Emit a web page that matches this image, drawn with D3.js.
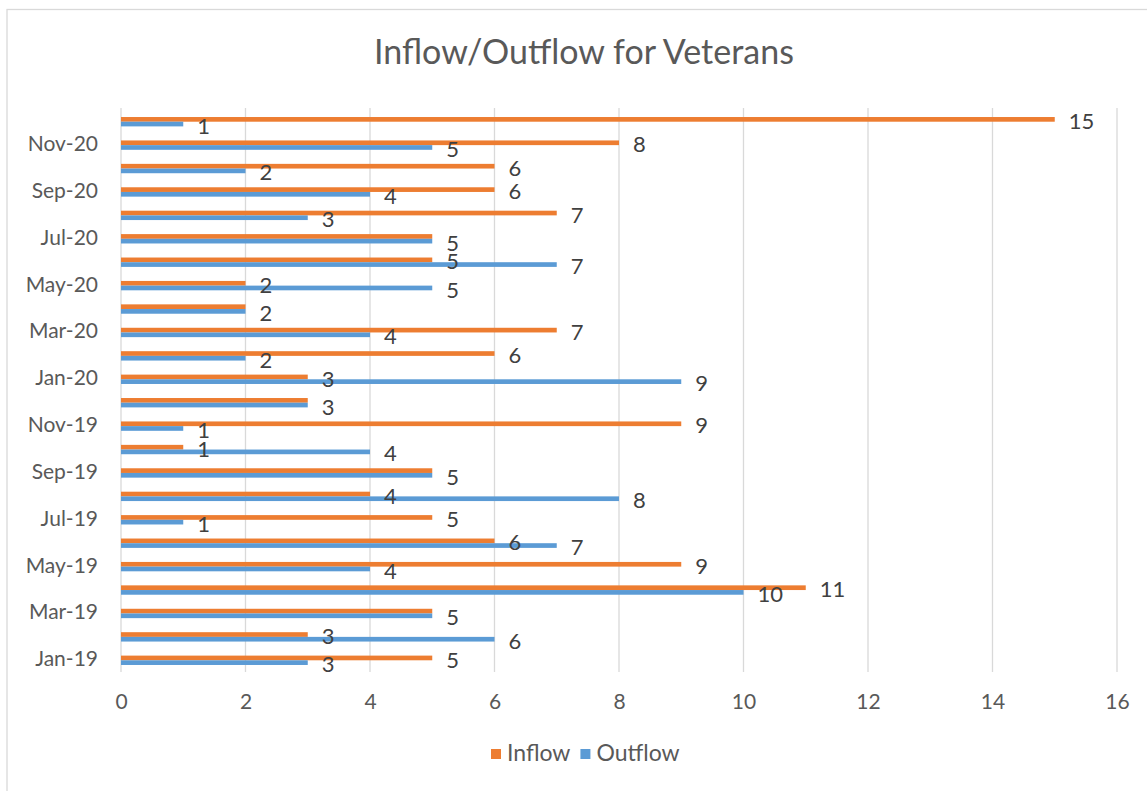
<!DOCTYPE html>
<html>
<head>
<meta charset="utf-8">
<script src="https://cdn.jsdelivr.net/npm/d3@7"></script>
<style>
  html, body { margin: 0; padding: 0; background: #fff; }
  svg { display: block; font-family: Lato, "Open Sans", sans-serif; }
</style>
</head>
<body>
<svg id="chart" width="1147" height="791"></svg>
<script>
const months = ["Jan-19","Feb-19","Mar-19","Apr-19","May-19","Jun-19","Jul-19","Aug-19","Sep-19","Oct-19","Nov-19","Dec-19",
                "Jan-20","Feb-20","Mar-20","Apr-20","May-20","Jun-20","Jul-20","Aug-20","Sep-20","Oct-20","Nov-20","Dec-20"];
const inflow  = [5,3,5,11,9,6,5,4,5,1,9,3, 3,6,7,2,2,5,5,7,6,6,8,15];
const outflow = [3,6,5,10,4,7,1,8,5,4,1,3, 9,2,4,2,5,7,5,3,4,2,5,1];
const seriesNames = ["Inflow","Outflow"];
const seriesColors = ["#ED7D31","#5B9BD5"];
const xTicks = [0,2,4,6,8,10,12,14,16];
const shownMonthLabels = months.filter((m, i) => i % 2 === 0);
const chartTitle = "Inflow/Outflow for Veterans";

(function () {
const svg = d3.select("#chart");
const textColor = "#595959";
const gridColor = "#d9d9d9";

svg.append("rect").attr("x", 7).attr("y", 9.5).attr("width", 1160).attr("height", 800)
  .attr("fill", "none").attr("stroke", gridColor).attr("stroke-width", 1.3);

const pL = 121, pR = 1117, pT = 110, pB = 672;
const x = d3.scaleLinear().domain([0, 16]).range([pL, pR]);
const y = d3.scaleBand().domain(months).range([pB, pT]).paddingInner(0.6).paddingOuter(0.3);
const ySub = d3.scaleBand().domain(seriesNames).range([0, y.bandwidth()]);

svg.append("g").selectAll("line").data(xTicks).join("line")
  .attr("x1", d => x(d)).attr("x2", d => x(d))
  .attr("y1", 108).attr("y2", pB)
  .attr("stroke", gridColor).attr("stroke-width", 1.3);

const xAxis = d3.axisBottom(x).tickValues(xTicks).tickSize(0).tickPadding(0);
const gx = svg.append("g").attr("transform", `translate(0,${pB + 22})`).call(xAxis);
gx.select(".domain").remove();
gx.selectAll("text").attr("fill", textColor).attr("font-size", 21).attr("font-family", "Lato").attr("dy", "0.71em");

const yAxis = d3.axisLeft(y).tickValues(shownMonthLabels).tickSize(0).tickPadding(23);
const gy = svg.append("g").attr("transform", `translate(${pL},0)`).call(yAxis);
gy.select(".domain").remove();
gy.selectAll("text").attr("fill", textColor).attr("font-size", 21).attr("font-family", "Lato").attr("dy", "0.28em");

const rows = months.map((m, i) => ({ month: m, values: [inflow[i], outflow[i]] }));
const groups = svg.append("g").selectAll("g").data(rows).join("g")
  .attr("transform", d => `translate(0,${y(d.month)})`);
groups.selectAll("rect").data(d => d.values.map((v, k) => ({ v, k }))).join("rect")
  .attr("x", x(0))
  .attr("y", d => ySub(seriesNames[d.k]))
  .attr("width", d => x(d.v) - x(0))
  .attr("height", ySub.bandwidth())
  .attr("fill", d => seriesColors[d.k]);

groups.selectAll("text").data(d => {
    const [a, b] = d.values;
    if (a === b) return [{ v: b, k: 1 }];
    return [{ v: a, k: 0 }, { v: b, k: 1 }];
  }).join("text")
  .attr("x", d => x(d.v) + 14)
  .attr("y", d => ySub(seriesNames[d.k]) + ySub.bandwidth() / 2 + 4)
  .attr("dominant-baseline", "middle")
  .attr("fill", "#404040")
  .attr("font-size", 22)
  .text(d => d.v);

svg.append("text").attr("x", 584).attr("y", 55).attr("text-anchor", "middle")
  .attr("dominant-baseline", "middle")
  .attr("fill", textColor).attr("font-size", 34).text(chartTitle);

const legend = svg.append("g");
let lx = 491;
seriesNames.forEach((name, k) => {
  legend.append("rect").attr("x", lx).attr("y", 749).attr("width", 10).attr("height", 10).attr("fill", seriesColors[k]);
  const t = legend.append("text").attr("x", lx + 16).attr("y", 755).attr("dominant-baseline", "middle")
    .attr("fill", textColor).attr("font-size", 23).text(name);
  lx += 16 + t.node().getComputedTextLength() + 10;
});
})();
</script>
</body>
</html>
